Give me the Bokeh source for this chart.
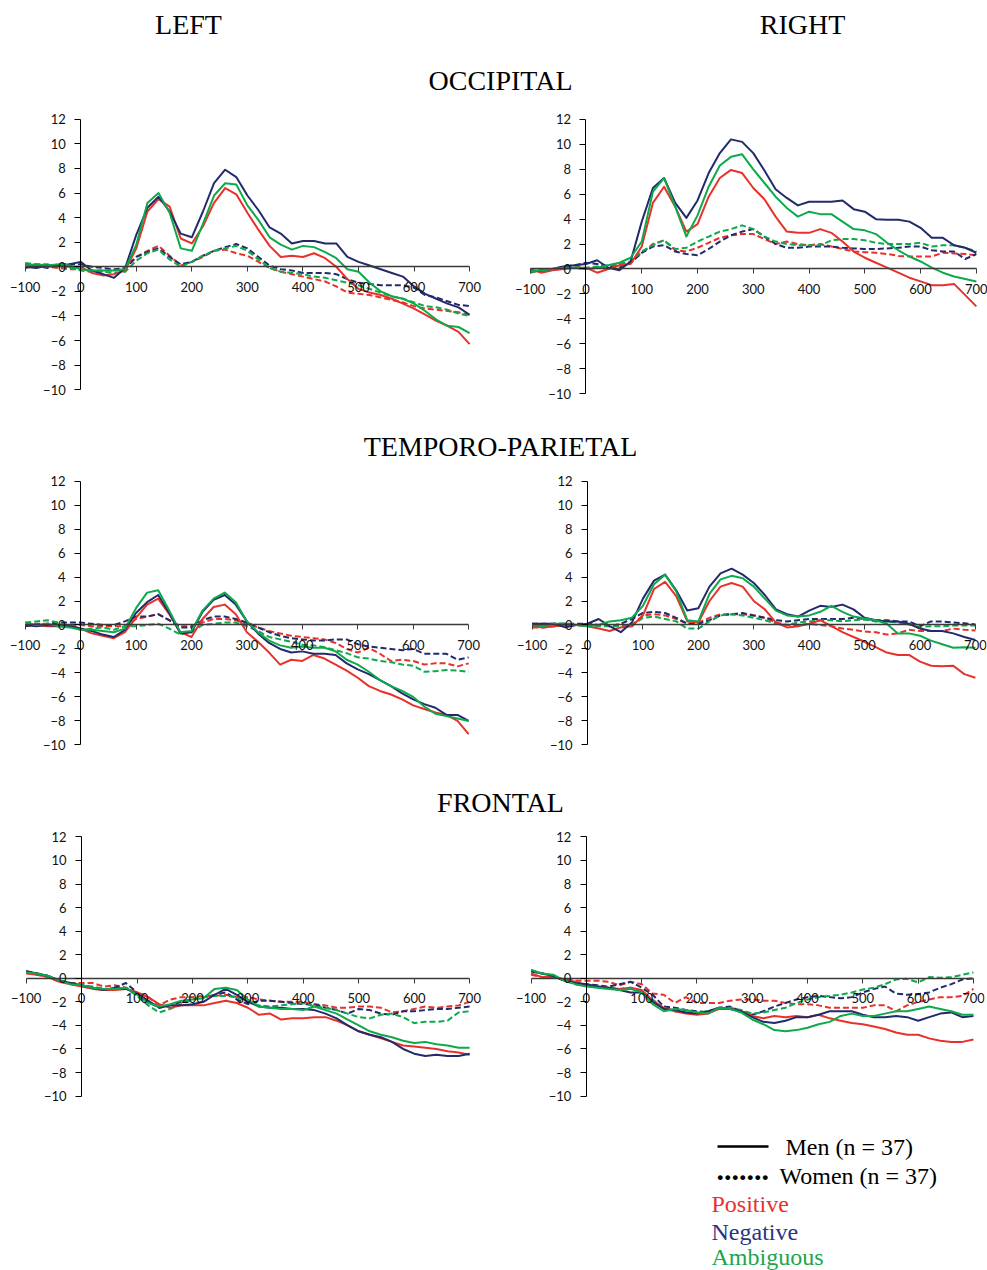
from bokeh.plotting import figure
from bokeh.layouts import column, row
from bokeh.models import Range1d, FixedTicker
from bokeh.core.properties import value
from bokeh.embed import file_html
from bokeh.resources import INLINE

# ---------------- data ----------------
time_ms = list(range(-100, 701, 20))
x_ticks = [-100, 0, 100, 200, 300, 400, 500, 600, 700]
y_ticks = [-10, -8, -6, -4, -2, 0, 2, 4, 6, 8, 10, 12]
conditions = ["Positive", "Negative", "Ambiguous"]
groups = ["Men (n = 37)", "Women (n = 37)"]
regions = ["OCCIPITAL", "TEMPORO-PARIETAL", "FRONTAL"]
hemispheres = ["LEFT", "RIGHT"]

# Occipital, left
occ_L_pos_men = [0.2,0.1,0.0,0.1,0.0,0.0,-0.5,-0.7,-0.6,-0.3, 1.5,4.5,5.5,4.9,2.3, 1.9,3.3,5.2,6.4,5.9, 4.4,3.0,1.7,0.8,0.9, 0.8,1.1,0.7,0.0,-1.0, -1.8,-2.1,-2.3,-2.6,-3.0, -3.4,-3.9,-4.4,-4.8,-5.3,-6.3]
occ_L_neg_men = [0.0,-0.1,0.1,0.1,0.2,0.4,-0.3,-0.6,-0.9,-0.1, 2.6,4.8,5.7,4.5,2.7, 2.4,4.5,6.8,7.9,7.3, 5.8,4.6,3.2,2.7,1.9, 2.1,2.1,1.9,1.9,0.8, 0.4,0.1,-0.2,-0.5,-0.8, -1.6,-2.2,-2.6,-3.0,-3.3,-3.9]
occ_L_amb_men = [0.1,0.2,0.1,0.2,0.1,-0.2,-0.3,-0.3,-0.3,-0.2, 1.8,5.2,6.0,4.4,1.5, 1.3,3.5,5.8,6.8,6.7, 5.0,3.8,2.4,1.8,1.4, 1.7,1.6,1.2,0.7,-0.2, -0.4,-1.3,-2.0,-2.4,-2.6, -3.0,-3.6,-4.3,-4.8,-4.9,-5.4]
occ_L_pos_women = [0.2,0.1,0.0,-0.1,-0.2,-0.2,-0.3,-0.3,-0.3,-0.2, 0.8,1.3,1.7,0.9,0.1, 0.4,0.8,1.3,1.4,1.1, 0.9,0.4,-0.1,-0.4,-0.6, -0.8,-1.0,-1.2,-1.6,-2.1, -2.2,-2.3,-2.5,-2.7,-2.9, -3.2,-3.4,-3.5,-3.6,-3.7,-3.9]
occ_L_neg_women = [-0.1,0.1,-0.1,0.2,0.2,0.2,0.0,-0.1,-0.2,-0.1, 0.8,1.2,1.5,0.8,0.2, 0.4,0.9,1.3,1.6,1.85, 1.5,0.8,0.1,-0.2,-0.3, -0.5,-0.5,-0.5,-0.6,-1.0, -1.3,-1.4,-1.5,-1.5,-1.5, -1.7,-2.3,-2.5,-2.8,-3.1,-3.2]
occ_L_amb_women = [0.3,0.2,0.2,0.0,-0.1,-0.3,-0.4,-0.4,-0.5,-0.4, 0.5,1.1,1.4,0.6,0.0, 0.4,0.9,1.3,1.5,1.7, 1.3,0.6,-0.1,-0.4,-0.5, -0.6,-0.8,-0.9,-1.1,-1.3, -1.5,-1.8,-2.1,-2.4,-2.6, -2.9,-3.2,-3.3,-3.5,-3.8,-4.0]

# Occipital, right
occ_R_pos_men = [0.0,-0.3,-0.1,0.0,0.1,0.1,-0.3,0.0,0.3,0.4, 1.8,5.3,6.6,5.0,3.0, 3.6,5.8,7.3,7.95,7.7, 6.5,5.6,4.2,3.0,2.9, 2.9,3.2,2.9, 2.2,1.4,0.9,0.5,0.1,-0.3,-0.7,-1.0,-1.3,-1.3,-1.2,-2.1,-3.0]
occ_R_neg_men = [-0.2,-0.1,0.0,0.2,0.3,0.4,0.7,0.1,-0.1,0.6, 3.8,6.5,7.3,5.3,4.1, 5.5,7.7,9.3,10.4,10.2, 9.3,7.9,6.4,5.7,5.1, 5.4,5.4,5.4, 5.5,4.8,4.6,4.0,3.95,3.95,3.8,3.3,2.5,2.5,1.9,1.7,1.3]
occ_R_amb_men = [-0.2,-0.1,0.0,0.1,0.1,0.0,0.1,0.3,0.5,0.9, 2.2,6.2,7.3,5.0,2.6, 4.3,6.6,8.3,9.0,9.2, 8.0,6.9,5.8,4.9,4.2, 4.6,4.4,4.4, 3.8,3.2,3.1,2.8,2.1,1.5,1.0,0.6,0.1,-0.3,-0.6,-0.8,-1.0]
occ_R_pos_women = [-0.2,-0.2,0.0,0.1,0.1,0.0,0.1,0.2,0.3,0.5, 1.3,2.0,2.3,1.5,1.4, 1.7,2.1,2.5,2.7,2.8, 2.8,2.4,2.0,2.2,2.0, 1.9,2.0,1.8, 1.6,1.4,1.35,1.3,1.2,1.05,1.0,1.0,1.0,1.3,1.25,1.2,1.1]
occ_R_neg_women = [-0.2,-0.1,0.0,0.2,0.3,0.5,0.4,0.2,0.1,0.5, 1.3,1.8,1.9,1.4,1.2, 1.1,1.6,2.2,2.7,3.0, 3.2,2.6,2.0,1.7,1.7, 1.8,1.8,1.8, 1.7,1.65,1.6,1.6,1.65,1.7,1.8,1.8,1.5,1.4,1.4,0.8,1.2]
occ_R_amb_women = [-0.3,-0.1,0.0,0.1,0.2,0.1,0.2,0.3,0.4,0.6, 1.4,1.9,2.3,1.6,1.7, 2.2,2.6,3.0,3.2,3.5, 3.2,2.6,2.2,2.0,1.9, 1.9,1.9,2.3, 2.4,2.4,2.3,2.1,2.0,2.0,2.0,2.1,1.8,1.9,1.9,1.7,1.4]

# Temporo-parietal, left
tp_L_pos_men = [0.0,0.0,-0.1,-0.1,0.0,-0.3,-0.7,-0.9,-1.1,-0.6, 0.6,1.7,2.2,0.9,-0.6, -1.0,0.5,1.5,1.7,0.9, -0.6,-1.4,-2.3,-3.3,-2.9, -3.0,-2.5,-2.8, -3.3,-3.8,-4.4,-5.1,-5.5,-5.8,-6.2,-6.7,-7.0,-7.3,-7.5,-8.0,-9.1]
tp_L_neg_men = [0.0,-0.1,0.0,-0.1,-0.1,-0.3,-0.5,-0.8,-1.0,-0.4, 1.0,1.9,2.5,1.0,-0.7, -0.6,1.1,2.1,2.5,1.7, 0.3,-0.7,-1.5,-2.0,-2.3, -2.2,-2.4,-2.4, -2.5,-3.2,-3.7,-4.1,-4.6,-5.1,-5.7,-6.2,-6.6,-6.9,-7.5,-7.5,-8.0]
tp_L_amb_men = [0.2,0.0,0.1,-0.1,-0.2,-0.4,-0.4,-0.5,-0.6,-0.3, 1.4,2.7,2.9,1.2,-0.6, -0.5,1.2,2.2,2.7,1.9, 0.3,-0.6,-1.3,-1.7,-1.9, -1.8,-1.9,-1.9, -2.2,-2.9,-3.3,-3.9,-4.6,-5.1,-5.5,-6.0,-6.8,-7.4,-7.6,-7.8,-8.0]
tp_L_pos_women = [0.0,0.1,0.1,0.0,0.0,0.0,-0.1,-0.1,-0.1,-0.1, 0.5,0.7,0.9,0.4,-0.1, -0.1,0.2,0.5,0.5,0.4, 0.1,-0.2,-0.5,-0.7,-0.9, -1.0,-1.1,-1.2, -1.5,-2.0,-2.3,-1.9,-2.4,-3.0,-2.9,-3.0,-3.3,-3.2,-3.2,-3.45,-3.2]
tp_L_neg_women = [-0.1,0.0,0.1,0.2,0.2,0.2,0.1,0.0,0.0,0.3, 0.7,0.7,0.9,0.4,-0.2, -0.2,0.4,0.7,0.7,0.5, 0.2,-0.2,-0.6,-0.9,-1.1, -1.2,-1.3,-1.3, -1.2,-1.2,-1.6,-1.8,-1.9,-2.0,-2.1,-2.0,-2.4,-2.4,-2.4,-2.9,-2.7]
tp_L_amb_women = [0.2,0.3,0.4,0.2,-0.1,-0.4,-0.3,-0.2,-0.4,-0.1, -0.1,0.0,0.1,-0.3,-0.8, -0.6,0.0,0.1,0.2,0.2, -0.1,-0.5,-1.0,-1.2,-1.4, -1.65,-1.7,-1.85, -2.1,-2.35,-2.7,-2.8,-3.0,-3.1,-3.3,-3.4,-3.9,-3.85,-3.75,-3.8,-3.9]

# Temporo-parietal, right
tp_R_pos_men = [-0.1,-0.2,-0.1,0.0,0.0,-0.1,-0.3,-0.5,-0.2,-0.1, 0.8,3.0,3.6,2.4,0.3, 0.2,2.0,3.2,3.5,3.2, 2.0,1.3,0.2,-0.2,-0.1, 0.1,0.4,-0.1, -0.6,-1.0,-1.4,-1.85,-2.3,-2.5,-2.5,-3.05,-3.4,-3.45,-3.4,-4.1,-4.4]
tp_R_neg_men = [0.1,0.1,0.1,-0.2,0.0,0.1,0.5,-0.1,-0.6,0.2, 2.2,3.7,4.2,2.9,1.2, 1.4,3.2,4.3,4.7,4.2, 3.5,2.5,1.3,0.9,0.7, 1.2,1.6,1.5, 1.7,1.3,0.6,0.4,0.3,0.3,0.1,-0.3,-0.5,-0.5,-0.7,-1.0,-1.25]
tp_R_amb_men = [0.0,-0.1,0.1,0.1,0.0,-0.1,0.0,0.3,0.4,0.6, 1.6,3.4,4.2,2.8,0.4, 0.3,2.6,3.8,4.1,3.9, 3.2,2.2,1.2,0.8,0.7, 0.8,1.1,1.6, 1.1,0.7,0.55,0.4,0.1,-0.7,-0.7,-0.9,-1.3,-1.6,-1.9,-1.85,-1.9]
tp_R_pos_women = [-0.2,-0.2,-0.1,0.0,0.0,0.0,0.0,0.0,0.0,0.0, 0.8,0.9,0.8,0.5,0.1, 0.2,0.6,0.9,0.9,0.9, 0.8,0.6,0.2,0.0,0.0, 0.1,0.0,-0.1, -0.3,-0.4,-0.55,-0.6,-0.8,-0.7,-0.4,-0.5,-0.5,-0.5,-0.3,-0.4,-0.45]
tp_R_neg_women = [0.1,0.1,0.1,0.1,0.1,0.1,0.0,-0.1,0.1,0.5, 1.0,1.1,1.0,0.6,0.1, 0.1,0.4,0.8,0.9,1.0, 0.8,0.6,0.4,0.3,0.4, 0.5,0.5,0.5, 0.5,0.6,0.5,0.4,0.4,0.3,0.3,-0.1,0.3,0.3,0.2,0.15,0.05]
tp_R_amb_women = [0.0,0.0,0.1,0.1,0.0,-0.1,-0.1,-0.1,-0.1,-0.1, 0.6,0.7,0.5,0.3,-0.3, -0.3,0.3,0.8,0.9,0.8, 0.6,0.4,0.1,0.0,0.2, 0.3,0.4,0.4, 0.3,0.4,0.45,0.3,0.3,0.2,0.05,-0.15,-0.1,-0.1,-0.05,-0.05,-0.05]

# Frontal, left
fr_L_pos_men = [0.4,0.3,0.1,-0.3,-0.5,-0.7,-0.9,-1.0,-1.0,-0.9, -1.2,-1.6,-2.2,-2.5,-2.3, -2.3,-2.3,-2.1,-1.9,-2.1, -2.5,-3.1,-3.0,-3.5,-3.4, -3.4,-3.3,-3.3, -3.6,-4.0,-4.5,-4.8,-5.1,-5.4,-5.7,-5.8,-5.9,-6.0,-6.2,-6.3,-6.5]
fr_L_neg_men = [0.6,0.4,0.2,-0.2,-0.4,-0.6,-0.8,-1.0,-0.8,-0.9, -1.3,-1.9,-2.5,-2.3,-2.3, -2.2,-2.0,-1.4,-0.9,-1.4, -2.0,-2.4,-2.5,-2.5,-2.6, -2.6,-2.7,-3.0, -3.4,-4.0,-4.5,-4.8,-5.0,-5.4,-6.0,-6.4,-6.6,-6.5,-6.6,-6.6,-6.4]
fr_L_amb_men = [0.5,0.4,0.2,-0.2,-0.5,-0.6,-0.8,-0.9,-0.9,-0.8, -1.4,-2.1,-2.4,-2.2,-1.9, -1.8,-1.7,-0.9,-0.8,-1.0, -1.8,-2.4,-2.5,-2.6,-2.6, -2.7,-2.4,-2.7, -3.0,-3.5,-4.0,-4.5,-4.8,-5.0,-5.3,-5.5,-5.4,-5.6,-5.7,-5.9,-5.9]
fr_L_pos_women = [0.5,0.3,0.1,-0.3,-0.4,-0.4,-0.4,-0.7,-0.6,-0.8, -1.2,-1.6,-2.3,-1.8,-1.6, -1.6,-1.5,-1.5,-1.4,-1.6, -1.6,-1.8,-1.9,-2.0,-2.0, -2.0,-2.2,-2.3, -2.5,-2.5,-2.4,-2.4,-2.5,-2.9,-2.8,-2.6,-2.4,-2.5,-2.4,-2.3,-2.0]
fr_L_neg_women = [0.6,0.4,0.2,-0.2,-0.4,-0.6,-0.8,-1.0,-0.8,-0.4, -1.2,-2.0,-2.5,-2.3,-2.0, -1.8,-1.6,-1.4,-1.2,-1.8, -2.2,-1.9,-1.9,-2.0,-2.1, -2.2,-2.2,-2.5, -2.7,-3.0,-2.6,-2.7,-3.0,-3.1,-2.8,-2.8,-2.7,-2.6,-2.6,-2.5,-2.4]
fr_L_amb_women = [0.5,0.4,0.2,-0.2,-0.4,-0.6,-0.7,-0.9,-0.9,-0.8, -1.5,-2.3,-2.9,-2.6,-2.2, -1.8,-1.6,-1.5,-1.5,-1.6, -2.0,-2.3,-2.4,-2.3,-2.2, -2.1,-2.4,-2.5, -2.7,-3.0,-3.3,-3.4,-3.1,-3.0,-3.3,-3.8,-3.7,-3.7,-3.6,-2.9,-2.8]

# Frontal, right
fr_R_pos_men = [0.4,0.1,0.1,-0.1,-0.3,-0.6,-0.7,-0.8,-0.9,-0.8, -1.0,-1.9,-2.5,-2.8,-3.0, -3.1,-3.0,-2.6,-2.6,-2.8, -3.2,-3.4,-3.2,-3.3,-3.2, -3.3,-3.1,-3.4, -3.6,-3.8,-3.9,-4.1,-4.3,-4.6,-4.8,-4.8,-5.1,-5.3,-5.4,-5.4,-5.2]
fr_R_neg_men = [0.6,0.4,0.2,-0.2,-0.4,-0.5,-0.7,-0.8,-1.0,-1.2, -1.2,-2.0,-2.6,-2.7,-2.9, -3.0,-2.8,-2.5,-2.6,-2.8, -3.3,-3.7,-3.8,-3.6,-3.3, -3.3,-3.1,-2.8, -2.8,-2.8,-3.1,-3.3,-3.3,-3.2,-3.3,-3.6,-3.3,-3.0,-2.9,-3.3,-3.2]
fr_R_amb_men = [0.7,0.4,0.3,-0.2,-0.5,-0.7,-0.8,-0.9,-1.0,-0.9, -1.2,-2.2,-2.8,-2.6,-2.7, -2.9,-3.0,-2.5,-2.6,-2.9, -3.5,-3.9,-4.4,-4.5,-4.4, -4.2,-3.9,-3.7, -3.2,-3.0,-3.2,-3.2,-3.0,-2.8,-2.8,-2.6,-2.4,-2.6,-2.8,-3.1,-3.1]
fr_R_pos_women = [0.3,0.1,0.1,-0.1,-0.2,-0.2,-0.2,-0.3,-0.6,-0.3, -0.5,-1.3,-1.4,-2.1,-1.6, -2.1,-2.1,-2.1,-1.9,-1.8, -1.8,-1.9,-1.9,-2.1,-2.2, -2.2,-2.3,-2.5, -2.5,-2.5,-2.5,-2.3,-2.3,-2.8,-2.3,-2.0,-1.8,-1.6,-1.6,-1.5,-0.9]
fr_R_neg_women = [0.6,0.4,0.2,-0.2,-0.4,-0.5,-0.6,-0.7,-0.5,-0.3, -0.8,-1.4,-2.4,-2.5,-2.7, -2.8,-2.9,-2.5,-2.4,-2.8, -3.1,-2.8,-2.4,-2.1,-1.8, -1.6,-1.5,-1.6, -1.7,-1.6,-1.2,-0.9,-0.7,-1.3,-1.4,-1.35,-1.2,-0.8,-0.5,-0.1,0.0]
fr_R_amb_women = [0.7,0.4,0.2,-0.2,-0.5,-0.6,-0.7,-0.8,-0.9,-0.8, -1.1,-1.8,-2.6,-2.8,-2.9, -2.9,-2.8,-2.6,-2.5,-2.7, -3.0,-2.9,-2.7,-2.5,-2.1, -1.8,-1.6,-1.5, -1.4,-1.2,-0.95,-0.8,-0.5,-0.1,-0.05,-0.35,0.1,0.05,0.1,0.3,0.5]

# ---------------- styles ----------------
COLORS = {"Positive": "#E8312A", "Negative": "#232A6C", "Ambiguous": "#0DAA4C"}
TEXT_COLORS = {"Positive": "#E8312A", "Negative": "#2B3383", "Ambiguous": "#1BA64B"}
SERIF = value("Liberation Serif")
TICK_FONT = "Lato"
W_TOTAL = 987


def make_panel(men, women, frame_w, frame_h, left, right, top, bottom, x_end):
    p = figure(frame_width=frame_w, frame_height=frame_h,
               min_border_left=left, min_border_right=right,
               min_border_top=top, min_border_bottom=bottom,
               x_range=Range1d(-130, x_end), y_range=Range1d(-10.8, 12.8),
               output_backend="svg", toolbar_location=None,
               background_fill_color="white", border_fill_color="white")
    p.outline_line_color = None
    p.xgrid.visible = False
    p.ygrid.visible = False
    p.xaxis.fixed_location = 0
    p.yaxis.fixed_location = 0
    p.xaxis.bounds = (x_ticks[0], x_ticks[-1])
    p.yaxis.bounds = (y_ticks[0], y_ticks[-1])
    p.xaxis.ticker = FixedTicker(ticks=x_ticks)
    p.yaxis.ticker = FixedTicker(ticks=y_ticks)
    for ax in (p.xaxis, p.yaxis):
        ax.minor_tick_line_color = None
        ax.major_label_text_font = TICK_FONT
        ax.major_label_text_font_size = "13px"
        ax.major_label_text_color = "#111111"
        ax.major_tick_in = 0
    p.xaxis.axis_line_color = "#3a3a3a"
    p.xaxis.axis_line_width = 1.5
    p.xaxis.major_tick_line_color = "#3a3a3a"
    p.xaxis.major_tick_out = 5
    p.xaxis.major_label_standoff = 10
    p.yaxis.axis_line_color = "black"
    p.yaxis.axis_line_width = 1
    p.yaxis.major_tick_out = 6
    p.yaxis.major_label_standoff = 9
    for cond in conditions:
        p.line(time_ms, women[cond], line_color=COLORS[cond], line_width=2,
               line_dash="6 3", line_join="round")
    for cond in conditions:
        p.line(time_ms, men[cond], line_color=COLORS[cond], line_width=2,
               line_join="round")
    return p


def text_fig(height, top_page):
    p = figure(width=W_TOTAL, height=height,
               x_range=Range1d(0, W_TOTAL),
               y_range=Range1d(top_page + height, top_page),
               x_axis_location=None, y_axis_location=None,
               min_border=0, output_backend="svg", toolbar_location=None)
    p.outline_line_color = None
    p.xgrid.visible = False
    p.ygrid.visible = False
    return p


def series(pos, neg, amb):
    return {"Positive": pos, "Negative": neg, "Ambiguous": amb}


TITLE_SIZE = "28px"

# header: LEFT / RIGHT / OCCIPITAL
head = text_fig(103, 0)
head.text(x=[188, 802], y=[24, 24], text=hemispheres, text_font=SERIF,
          text_font_size=TITLE_SIZE, text_align="center",
          text_baseline="middle", text_color="black")
head.text(x=[500], y=[80], text=[regions[0]], text_font=SERIF,
          text_font_size=TITLE_SIZE, text_align="center",
          text_baseline="middle", text_color="black")

tl = make_panel(series(occ_L_pos_men, occ_L_neg_men, occ_L_amb_men),
                series(occ_L_pos_women, occ_L_neg_women, occ_L_amb_women),
                475, 290, 8, 15, 6, 4, 725)
tr = make_panel(series(occ_R_pos_men, occ_R_neg_men, occ_R_amb_men),
                series(occ_R_pos_women, occ_R_neg_women, occ_R_amb_women),
                474, 294, 15, 0, 2, 4, 720)

t2 = text_fig(60, 403)
t2.text(x=[500], y=[446], text=[regions[1]], text_font=SERIF,
        text_font_size=TITLE_SIZE, text_align="center",
        text_baseline="middle", text_color="black")

ml = make_panel(series(tp_L_pos_men, tp_L_neg_men, tp_L_amb_men),
                series(tp_L_pos_women, tp_L_neg_women, tp_L_amb_women),
                474, 283, 8, 16, 8, 9, 725)
mr = make_panel(series(tp_R_pos_men, tp_R_neg_men, tp_R_amb_men),
                series(tp_R_pos_women, tp_R_neg_women, tp_R_amb_women),
                471, 283, 17, 1, 7, 10, 720)

t3 = text_fig(55, 763)
t3.text(x=[500], y=[802], text=[regions[2]], text_font=SERIF,
        text_font_size=TITLE_SIZE, text_align="center",
        text_baseline="middle", text_color="black")

bl = make_panel(series(fr_L_pos_men, fr_L_neg_men, fr_L_amb_men),
                series(fr_L_pos_women, fr_L_neg_women, fr_L_amb_women),
                474, 278, 9, 15, 9, 3, 725)
br = make_panel(series(fr_R_pos_men, fr_R_neg_men, fr_R_amb_men),
                series(fr_R_pos_women, fr_R_neg_women, fr_R_amb_women),
                470, 278, 16, 3, 9, 3, 720)

# legend
leg = text_fig(162, 1108)
leg.line(x=[717, 768], y=[1146, 1146], line_color="black", line_width=2.5)
leg.text(x=[785], y=[1146], text=[groups[0]], text_font=SERIF,
         text_font_size="24px", text_align="left", text_baseline="middle",
         text_color="black")
leg.text(x=[716], y=[1170], text=["......."], text_font=SERIF,
         text_font_size="30px", text_font_style="bold", text_align="left",
         text_baseline="middle", text_color="black")
leg.text(x=[779], y=[1175], text=[groups[1]], text_font=SERIF,
         text_font_size="24px", text_align="left", text_baseline="middle",
         text_color="black")
leg.text(x=[711, 711, 711], y=[1203, 1231, 1256], text=conditions,
         text_font=SERIF, text_font_size="24px", text_align="left",
         text_baseline="middle",
         text_color=[TEXT_COLORS[c] for c in conditions])

layout = column(head, row(tl, tr), t2, row(ml, mr), t3, row(bl, br), leg)

open("out.html", "w").write(file_html(layout, INLINE))
